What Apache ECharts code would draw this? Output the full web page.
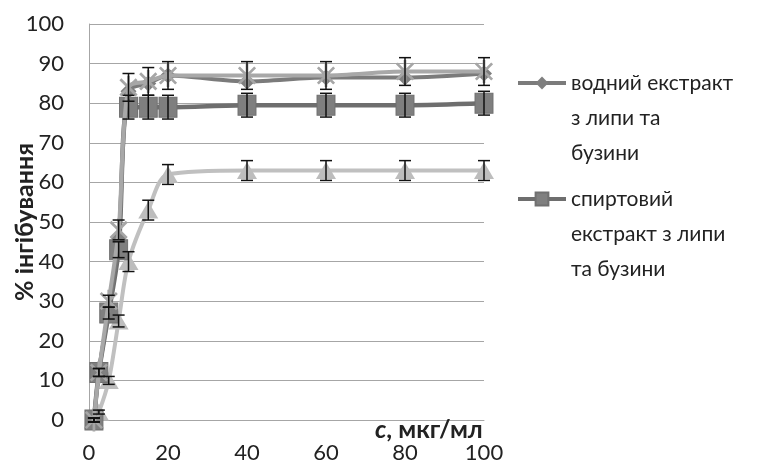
<!DOCTYPE html>
<html>
<head>
<meta charset="utf-8">
<script src="https://cdn.jsdelivr.net/npm/echarts@6/dist/echarts.min.js"></script>
<style>
html,body{margin:0;padding:0;background:#fff;}
#chart{width:763px;height:466px;}
</style>
</head>
<body>
<div id="chart"></div>
<script>
// ---- data ----
const concentrations = [1.25, 2.5, 5, 7.5, 10, 15, 20, 40, 60, 80, 100];
const waterExtract   = [0, 12, 28, 46, 83, 85, 87, 85.5, 86.5, 86.5, 87.5];
const alcoholExtract = [0, 12, 27, 43, 79, 79, 79, 79.5, 79.5, 79.5, 80];
const series3Values  = [0, 12, 30, 48, 84, 85.5, 87, 87, 87, 88, 88];
const series4Values  = [0, 2, 10, 25, 40, 53, 62, 63, 63, 63, 63];
const series3Errors  = [0.5, 1, 1.5, 2.5, 3.5, 3.5, 3.5, 3.5, 3.5, 3.5, 3.5];
const alcoholErrors  = [0.5, 1, 1.5, 2, 3, 3, 3, 3, 3, 3, 3];
const series4Errors  = [0.5, 0.5, 1, 1.5, 2.5, 2.5, 2.5, 2.5, 2.5, 2.5, 2.5];
const xTicks = [0, 20, 40, 60, 80, 100];
const yTicks = [0, 10, 20, 30, 40, 50, 60, 70, 80, 90, 100];
const seriesNames = ['водний екстракт з липи та бузини', 'спиртовий екстракт з липи та бузини', 'ряд 3', 'ряд 4'];
const legendLines = {
  'водний екстракт з липи та бузини': ['водний екстракт', 'з липи та', 'бузини'],
  'спиртовий екстракт з липи та бузини': ['спиртовий', 'екстракт з липи', 'та бузини']
};
const yAxisTitle = '% інгібування';
const xAxisTitleItalic = 'c';
const xAxisTitleRest = ', мкг/мл';

const FONT = 'Lato, "Liberation Sans", sans-serif';
const pts = (vals) => concentrations.map((x, i) => [x, vals[i]]);
const errPts = (vals, errs) => concentrations.map((x, i) => [x, vals[i], errs[i]]);

const starPath = 'path://M-1.3,-11L1.3,-11L1.3,11L-1.3,11Z' +
  'M-6.86,-8.7L8.7,6.86L6.86,8.7L-8.7,-6.86Z' +
  'M-8.7,6.86L6.86,-8.7L8.7,-6.86L-6.86,8.7Z';

function errorBarRender(params, api) {
  const x = api.value(0), y = api.value(1), e = api.value(2);
  const top = api.coord([x, y + e]);
  const bot = api.coord([x, y - e]);
  const hw = 6;
  const style = { stroke: '#111', lineWidth: 1.5 };
  return {
    type: 'group',
    children: [
      { type: 'line', shape: { x1: top[0], y1: top[1], x2: bot[0], y2: bot[1] }, style },
      { type: 'line', shape: { x1: top[0] - hw, y1: top[1], x2: top[0] + hw, y2: top[1] }, style },
      { type: 'line', shape: { x1: bot[0] - hw, y1: bot[1], x2: bot[0] + hw, y2: bot[1] }, style }
    ]
  };
}

// Leading blank lines put the first text line level with the legend icon
const legendBase = {
  orient: 'vertical',
  left: 516,
  padding: 0,
  itemWidth: 48,
  itemHeight: 16,
  lineStyle: { width: 4 },
  formatter: (n) => legendLines[n] ? '\n\n' + legendLines[n].join('\n') : n,
  textStyle: { fontFamily: FONT, fontSize: 21, lineHeight: 35, color: '#222' }
};

const chart = echarts.init(document.getElementById('chart'), null, { renderer: 'canvas' });
chart.setOption({
  animation: false,
  backgroundColor: '#fff',
  grid: { left: 89, right: 279, top: 24, bottom: 46, containLabel: false, outerBoundsMode: 'none' },
  legend: [
    Object.assign({}, legendBase, { top: -4.5, data: [seriesNames[0]] }),
    Object.assign({}, legendBase, { top: 111.5, data: [seriesNames[1]] })
  ],
  xAxis: {
    type: 'value', min: xTicks[0], max: xTicks[xTicks.length - 1], interval: xTicks[1] - xTicks[0],
    axisLine: { show: true, lineStyle: { color: '#a6a6a6', width: 1 } },
    axisTick: { show: false },
    splitLine: { show: false },
    axisLabel: { fontFamily: FONT, fontSize: 22, color: '#222', margin: 22 }
  },
  yAxis: {
    type: 'value', min: yTicks[0], max: yTicks[yTicks.length - 1], interval: yTicks[1] - yTicks[0],
    name: yAxisTitle, nameLocation: 'middle', nameGap: 52, nameMoveOverlap: false,
    nameTextStyle: { fontFamily: FONT, fontSize: 25, fontWeight: 'bold', color: '#222' },
    axisLine: { show: true, lineStyle: { color: '#a6a6a6', width: 1 } },
    axisTick: { show: false },
    splitLine: { show: true, lineStyle: { color: '#a6a6a6', width: 1 } },
    axisLabel: { fontFamily: FONT, fontSize: 22, color: '#222', margin: 25 }
  },
  graphic: [{
    type: 'text', left: 375, top: 417, z: 10,
    style: {
      text: '{i|' + xAxisTitleItalic + '}{b|' + xAxisTitleRest + '}',
      rich: {
        i: { fontFamily: FONT, fontSize: 25, fontWeight: 'bold', fontStyle: 'italic', fill: '#222' },
        b: { fontFamily: FONT, fontSize: 25, fontWeight: 'bold', fill: '#222' }
      }
    }
  }],
  series: [
    {
      name: seriesNames[3], type: 'line', data: pts(series4Values), smooth: 0.3, z: 2,
      symbol: 'triangle', symbolSize: [20, 17],
      lineStyle: { color: '#c0c0c0', width: 4 },
      itemStyle: { color: '#bdbdbd' }
    },
    {
      name: seriesNames[1], type: 'line', data: pts(alcoholExtract), smooth: 0.3, z: 3,
      symbol: 'rect', symbolSize: [18, 20],
      lineStyle: { color: '#6e6e6e', width: 4.5 },
      itemStyle: { color: '#7f7f7f', borderColor: '#707070', borderWidth: 1 }
    },
    {
      name: seriesNames[0], type: 'line', data: pts(waterExtract), smooth: 0.3, z: 4,
      symbol: 'diamond', symbolSize: 16,
      lineStyle: { color: '#7b7b7b', width: 4 },
      itemStyle: { color: '#7f7f7f' }
    },
    {
      name: seriesNames[2], type: 'line', data: pts(series3Values), smooth: 0.3, z: 5,
      symbol: starPath, symbolSize: 23, symbolKeepAspect: true,
      lineStyle: { color: '#a8a8a8', width: 4 },
      itemStyle: { color: '#a6a6a6' }
    },
    { type: 'custom', renderItem: errorBarRender, data: errPts(series4Values, series4Errors), z: 6, silent: true },
    { type: 'custom', renderItem: errorBarRender, data: errPts(alcoholExtract, alcoholErrors), z: 6, silent: true },
    { type: 'custom', renderItem: errorBarRender, data: errPts(series3Values, series3Errors), z: 6, silent: true }
  ]
});
</script>
</body>
</html>
